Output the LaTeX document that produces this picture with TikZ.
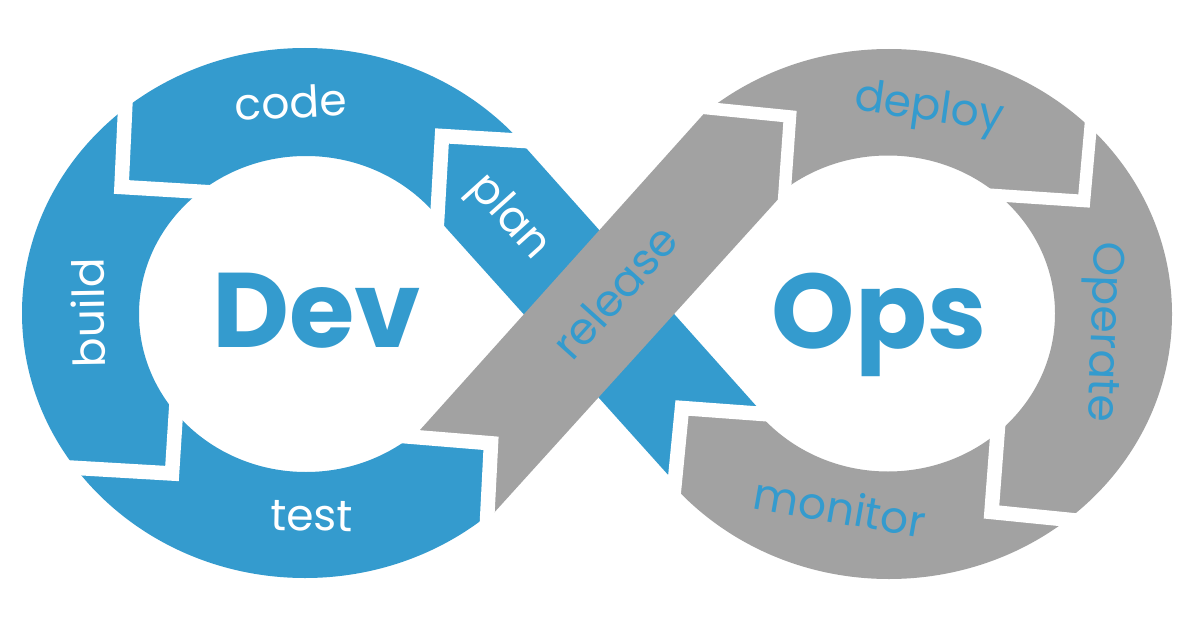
\documentclass[tikz,border=0pt]{standalone}
\usepackage{fontspec}
\newfontfamily\pop{Poppins}
\definecolor{dblue}{RGB}{52,155,206}
\definecolor{dgray}{RGB}{162,162,162}
\begin{document}
\begin{tikzpicture}[x=1pt,y=-1pt,
  gap/.style={draw=white, line width=14.5pt, line join=miter, miter limit=10, line cap=butt},
  lbl/.style={font=\pop\fontsize{44}{44}\selectfont, inner sep=0pt},
  big/.style={font=\pop\bfseries\fontsize{106}{106}\selectfont, text=dblue, inner sep=0pt, anchor=base}]
\useasboundingbox (0,0) rectangle (1200,618);
\fill[white] (0,0) rectangle (1200,618);
% left ring (Dev)
\begin{scope}
\clip (-10,-10) -- (600,-10) -- (600,145.5) -- (442,136) -- (437.3,218.1) -- (413.8,436.9) -- (491,443.3) -- (481,640) -- (-10,640) -- cycle;
\fill[dblue, even odd rule] (305,313) ellipse [x radius=283pt, y radius=265pt] (306,314) ellipse [x radius=167pt, y radius=158pt];
\end{scope}
% right ring (Ops)
\begin{scope}
\clip (600,-10) -- (1250,-10) -- (1250,640) -- (659,640) -- (682,408) -- (790,416) -- (784.7,191.9) -- (790,116.5) -- (600,97.5) -- cycle;
\fill[dgray, even odd rule] (889,314) ellipse [x radius=283pt, y radius=265pt] (888,313.5) ellipse [x radius=167pt, y radius=158pt];
\end{scope}
% crossing strips
\fill[dblue] (442,136) -- (519.4,140.6) -- (763.4,414) -- (682,408) -- (674.7,482.2) -- (437.3,218.1) -- cycle;
\fill[dgray] (708.7,108.4) -- (790,116.5) -- (784.7,191.9) -- (487,520.5) -- (491,443.3) -- (413.8,436.9) -- cycle;
% white gaps between segments
\draw[gap] (127.4,60) -- (121.5,187) -- (240,194.1);
\draw[gap] (40,465.8) -- (172,473.5) -- (178.6,370);
\draw[gap] (380,434.2) -- (491,443.3) -- (485,560);
\draw[gap] (545,142.2) -- (442,136) -- (435.4,250);
\draw[gap, line width=12.5pt] (680,105.5) -- (790,116.5) -- (782.3,225);
\draw[gap, line width=12.5pt] (1093.9,90) -- (1084,201) -- (970,193.4);
\draw[gap] (1000.8,390) -- (991.5,512) -- (1110,523.9);
\draw[gap] (800,416.7) -- (682,408) -- (670.1,530);
% labels
\node[lbl, text=white, rotate=3] (code) at (291,102) {code};
\node[lbl, text=white, rotate=91] (build) at (88,313) {build};
\node[lbl, text=white, rotate=-1] (test) at (312,516) {test};
\node[lbl, text=white, rotate=-48] (plan) at (508,218) {plan};
\node[lbl, text=dblue, rotate=48] (release) at (615,292) {release};
\node[lbl, text=dblue, rotate=-8] (deploy) at (929,110) {deploy};
\node[lbl, text=dblue, rotate=-92] (operate) at (1101,332) {Operate};
\node[lbl, text=dblue, rotate=-10] (monitor) at (840,507) {monitor};
\node[big] (dev) at (316.7,347.7) {Dev};
\node[big] (ops) at (879,348) {Ops};
\end{tikzpicture}
\end{document}
